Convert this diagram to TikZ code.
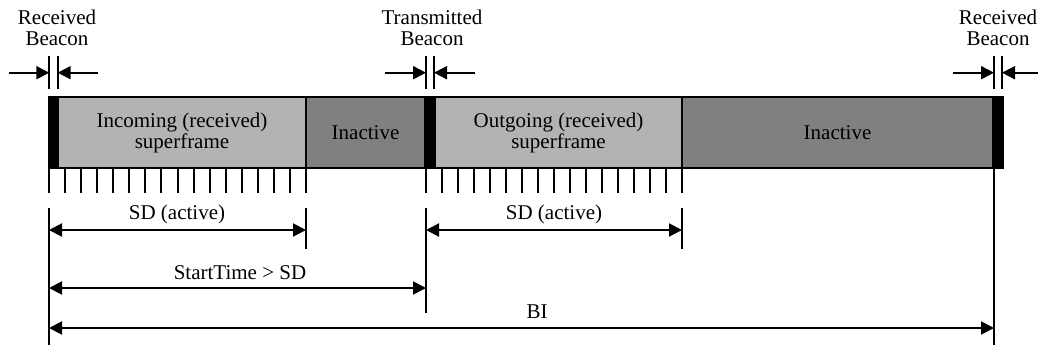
\documentclass[tikz,border=0pt]{standalone}
\usepackage{fontspec}
\setmainfont{Liberation Serif}
\usetikzlibrary{arrows.meta}
\definecolor{lightg}{RGB}{179,179,179}
\definecolor{darkg}{RGB}{128,128,128}
\begin{document}
\begin{tikzpicture}[x=1pt,y=-1pt,line width=2pt,
  >={Triangle[length=13pt,width=13pt]},
  txt/.style={font=\fontsize{21}{21}\selectfont, align=center, inner sep=0pt},
  seg/.style={draw=black, line width=2pt, minimum height=71pt, inner sep=0pt,
              outer sep=0pt, anchor=north west, txt},
  tick/.style={line width=2pt},
]
\useasboundingbox (0,0) rectangle (1038,349);

% superframe bar
\node[seg, fill=black,  minimum width=9pt]   (b1)  at (49,97)  {};
\node[seg, fill=lightg, minimum width=248pt] (inc) at (58,97)  {Incoming (received)\\superframe};
\node[seg, fill=darkg,  minimum width=119pt] (ia1) at (306,97) {Inactive};
\node[seg, fill=black,  minimum width=10pt]  (b2)  at (425,97) {};
\node[seg, fill=lightg, minimum width=247pt] (out) at (435,97) {Outgoing (received)\\superframe};
\node[seg, fill=darkg,  minimum width=311pt] (ia2) at (682,97) {Inactive};
\node[seg, fill=black,  minimum width=10pt]  (b3)  at (993,97) {};

% slot ticks
\foreach \i in {0,...,16} {
  \draw[tick] (49+\i*16.0625,168) -- (49+\i*16.0625,193);
  \draw[tick] (426+\i*16,168) -- (426+\i*16,193);
}

% beacon labels
\node[txt] (lrb1) at (57,28)   {Received\\Beacon};
\node[txt] (ltb)  at (432,28)  {Transmitted\\Beacon};
\node[txt] (lrb2) at (998,28)  {Received\\Beacon};

% beacon markers
\coordinate (r1a) at (49.3,56);  \coordinate (r1b) at (49.3,89);
\coordinate (r1c) at (57.7,56);  \coordinate (r1d) at (57.7,89);
\coordinate (r1l) at (9,72.7);   \coordinate (r1r) at (98,72.7);
\draw (r1a) -- (r1b); \draw (r1c) -- (r1d);
\draw[->] (r1l) -- (r1a |- r1l);
\draw[->] (r1r) -- (r1c |- r1r);

\coordinate (t1a) at (426,56);  \coordinate (t1b) at (426,89);
\coordinate (t1c) at (434,56);  \coordinate (t1d) at (434,89);
\coordinate (t1l) at (385,72.7); \coordinate (t1r) at (475,72.7);
\draw (t1a) -- (t1b); \draw (t1c) -- (t1d);
\draw[->] (t1l) -- (t1a |- t1l);
\draw[->] (t1r) -- (t1c |- t1r);

\coordinate (r2a) at (994,56);  \coordinate (r2b) at (994,89);
\coordinate (r2c) at (1002,56); \coordinate (r2d) at (1002,89);
\coordinate (r2l) at (953,72.7); \coordinate (r2r) at (1040,72.7);
\draw (r2a) -- (r2b); \draw (r2c) -- (r2d);
\draw[->] (r2l) -- (r2a |- r2l);
\draw[->] (r2r) -- (r2c |- r2r);

% dimension extension lines
\coordinate (e1t) at (49,208);  \coordinate (e1b) at (49,345);
\coordinate (e2t) at (306,208); \coordinate (e2b) at (306,249);
\coordinate (e3t) at (426,208); \coordinate (e3b) at (426,313);
\coordinate (e4t) at (682,208); \coordinate (e4b) at (682,249);
\coordinate (e5t) at (994,168); \coordinate (e5b) at (994,345);
\draw (e1t) -- (e1b);
\draw (e2t) -- (e2b);
\draw (e3t) -- (e3b);
\draw (e4t) -- (e4b);
\draw (e5t) -- (e5b);

% dimension arrows
\coordinate (ySD) at (0,230);
\coordinate (yST) at (0,288);
\coordinate (yBI) at (0,328);
\draw[<->] (e1t |- ySD) -- (e2t |- ySD);
\draw[<->] (e3t |- ySD) -- (e4t |- ySD);
\draw[<->] (e1t |- yST) -- (e3t |- yST);
\draw[<->] (e1t |- yBI) -- (e5t |- yBI);

% dimension labels
\node[txt, anchor=base] (lsd1) at (177,219) {SD (active)};
\node[txt, anchor=base] (lsd2) at (554,219) {SD (active)};
\node[txt, anchor=base] (lst)  at (240,279) {StartTime > SD};
\node[txt, anchor=base] (lbi)  at (537,318) {BI};
\end{tikzpicture}
\end{document}
